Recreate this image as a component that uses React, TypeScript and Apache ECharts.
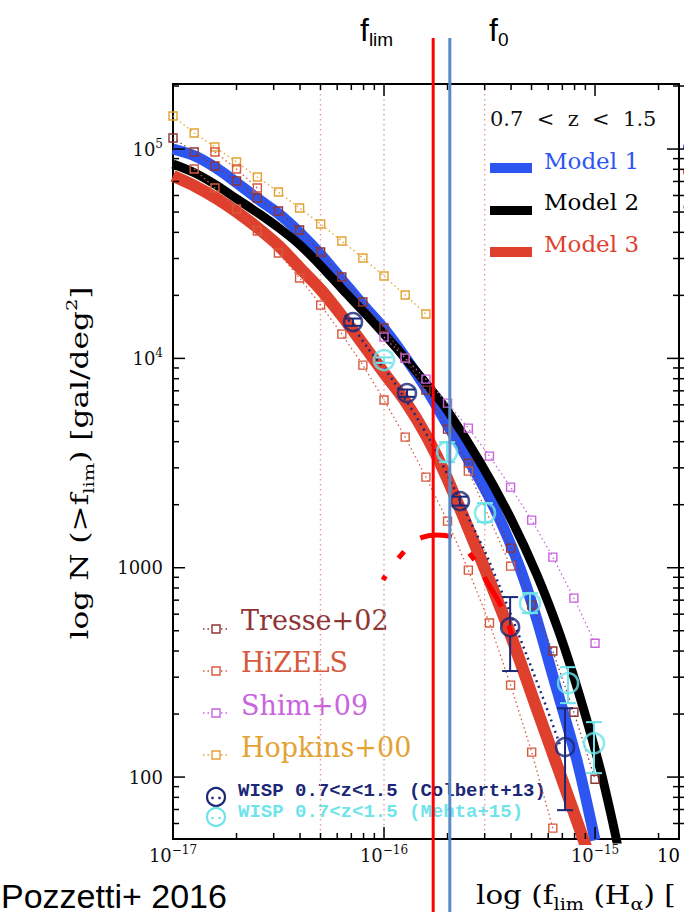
import React, { useEffect, useRef } from "react";
import * as echarts from "echarts";

// Flux limits f_lim are stored in units of 1e-17 erg s^-1 cm^-2; counts N(>f_lim) in gal/deg^2.
const FLUX_EXP0 = -17;

const X_MIN = 1;
const X_MAX = 250;
const Y_MIN = 50.6;
const Y_MAX = 204500;

const X_TICKS_MAJOR = [1, 10, 100];
const X_TICKS_MINOR = [2, 3, 4, 5, 6, 7, 8, 9, 20, 30, 40, 50, 60, 70, 80, 90, 200];
const Y_TICKS_MAJOR = [100, 1000, 10000, 100000];
const Y_TICKS_MINOR = [
  60, 70, 80, 90, 200, 300, 400, 500, 600, 700, 800, 900, 2000, 3000, 4000, 5000, 6000, 7000, 8000, 9000,
  20000, 30000, 40000, 50000, 60000, 70000, 80000, 90000, 200000,
];

const GUIDE_FLUX = [5, 10, 30];
const F_LIM = 17.1;
const F_0 = 20.5;

// Models
const MODEL1_FLUX = [1.0, 1.27, 1.6, 2.01, 2.53, 3.18, 4.0, 5.03, 6.33, 7.95, 10.1, 12.7, 16.0, 19.9, 28.5, 35.5, 44.1, 53.1, 63.2, 82.1, 100];
const MODEL1_N = [100000, 92600, 81200, 68800, 57700, 48900, 39700, 31200, 23700, 18000, 13700, 10000, 7060, 4850, 2620, 1690, 995, 562, 303, 120, 49.9];

const MODEL2_FLUX = [1.0, 1.27, 1.6, 2.01, 2.53, 3.18, 4.0, 5.03, 6.33, 7.95, 10.1, 12.7, 16.5, 19.9, 28.5, 39.6, 53.1, 68.3, 84.9, 105.6, 123, 131.4];
const MODEL2_N = [84800, 76800, 67300, 57700, 49460, 41940, 34770, 27610, 21440, 16830, 12920, 9924, 7215, 5662, 3196, 1745, 922, 476.5, 240.9, 110.3, 57.0, 41.0];

const MODEL3_FLUX = [1.0, 1.27, 1.6, 2.01, 2.53, 3.18, 4.0, 5.03, 6.33, 7.95, 10.1, 12.7, 16.0, 19.9, 28.5, 38.3, 54.9, 78.7, 94.7];
const MODEL3_N = [74300, 66560, 58330, 50010, 41940, 34400, 27010, 21210, 15920, 11700, 8414, 6183, 4207, 2680, 1124, 531.8, 191.4, 69.5, 41.0];

const DOTTED_FLUX = [6.54, 8.31, 11.0, 16.5, 23.7, 31.8, 54.9, 68.3];
const DOTTED_N = [16100, 11320, 7876, 4070, 1948, 1052, 260, 142];

// Literature counts
const HOPKINS_FLUX = [1.0, 1.26, 1.58, 2.0, 2.51, 3.16, 3.98, 5.01, 6.31, 7.94, 10.0, 12.6, 15.8];
const HOPKINS_N = [143800, 119300, 102200, 86700, 73500, 62300, 52260, 43830, 36350, 30150, 24740, 20070, 16280];

const TRESSE_FLUX = [1.0, 1.26, 1.58, 2.0, 2.51, 3.16, 3.98, 5.01, 6.31, 7.94, 10.0, 12.6, 15.8, 20.0, 25.1, 39.8, 50.1, 63.1, 79.4, 100];
const TRESSE_N = [112900, 96760, 82950, 70330, 58330, 50560, 41020, 32200, 24460, 18580, 13960, 10030, 7055, 4594, 3161, 1241, 663, 400, 204, 97.7];

const HIZELS_FLUX = [1.26, 1.58, 2.0, 2.51, 3.16, 3.98, 5.01, 6.31, 7.94, 10.0, 12.6, 15.8, 20.0, 25.1, 31.6, 39.8, 50.1, 63.1];
const HIZELS_N = [80250, 65130, 51680, 40570, 31850, 24200, 17970, 13060, 9290, 6322, 4207, 2710, 1670, 974, 544, 275, 131.5, 57.0];
const HIZELS_B_FLUX = [1.58, 2.0, 2.51];
const HIZELS_B_N = [96760, 80250, 65130];
const HIZELS_C_FLUX = [25.1, 39.8];
const HIZELS_C_N = [2895, 1018];

const SHIM_FLUX = [10.0, 12.6, 15.8, 20.0, 25.1, 31.6, 39.8, 50.1, 63.1, 79.4, 100];
const SHIM_N = [12640, 10030, 7963, 6114, 4645, 3414, 2427, 1688, 1124, 716, 436];

const COLBERT_FLUX = [7.13, 12.85, 22.9, 39.6, 72.1];
const COLBERT_N = [14910, 6827, 2081, 520, 139];
const COLBERT_LO = [14310, 6550, 1980, 321, 69.5];
const COLBERT_HI = [15500, 7100, 2185, 724, 213];

const MEHTA_FLUX = [10.0, 19.9, 30.1, 49.2, 74.5, 98.9];
const MEHTA_N = [9815, 3567, 1824, 677, 281, 145];
const MEHTA_LO = [9520, 3195, 1652, 607, 225.5, 104.4];
const MEHTA_HI = [10110, 3983, 2036, 756, 335, 183];

// Hand-drawn dashed highlight arc
const ARC_FLUX = [9.89, 12.04, 15.3, 17.84, 21.01, 26.41, 30.77, 36.64, 40.43];
const ARC_N = [873, 1149, 1400, 1432, 1400, 1112, 854, 627, 466];

const C_BLUE = "#2d55f2";
const C_BLACK = "#000000";
const C_RED = "#df3f2d";
const C_TRESSE = "#8e3535";
const C_HIZELS = "#d65a3e";
const C_SHIM = "#c864de";
const C_HOPKINS = "#e3a334";
const C_NAVY = "#1b2777";
const C_CYAN = "#6fe4ea";
const C_GUIDE = "#e39c9c";
const C_FLIM = "#ff0000";
const C_F0 = "#5a8ac6";

const SERIF = "DejaVu Serif";
const SANS = "Liberation Sans";

const zip = (xs: number[], ys: number[]) => xs.map((x, i) => [x, ys[i]]);
const isPow10 = (v: number) => {
  const l = Math.log10(v);
  return Math.abs(l - Math.round(l)) < 1e-6;
};
const fmtExp = (e: number) => (e < 0 ? "\u2212" + Math.abs(e) : String(e));

export default function App() {
  const ref = useRef<HTMLDivElement>(null);

  useEffect(() => {
    document.body.style.margin = "0";
    const chart = echarts.init(ref.current!, null, { renderer: "svg" });

    const labelRich = {
      b: { fontFamily: SERIF, fontSize: 18, lineHeight: 22, color: "#111" },
      s: { fontFamily: SERIF, fontSize: 12, lineHeight: 13, verticalAlign: "top", color: "#111" },
    };

    const lineSeries = (name: string, xs: number[], ys: number[], color: string, width: number, z: number) => ({
      type: "line",
      name,
      data: zip(xs, ys),
      symbol: "none",
      smooth: 0.3,
      silent: true,
      lineStyle: { color, width, cap: "butt" },
      z,
    });

    const squareSeries = (name: string, xs: number[], ys: number[], color: string) => ({
      type: "line",
      name,
      data: zip(xs, ys),
      symbol: "rect",
      symbolSize: 8,
      showSymbol: true,
      showAllSymbol: true,
      silent: true,
      itemStyle: { color: "rgba(255,255,255,0)", borderColor: color, borderWidth: 1.4 },
      lineStyle: { color, width: 1.3, type: [1.5, 3] },
      z: 5,
    });

    const errSeries = (xs: number[], lo: number[], hi: number[], color: string) => ({
      type: "custom",
      coordinateSystem: "cartesian2d",
      silent: true,
      z: 7,
      data: xs.map((x, i) => [x, lo[i], hi[i]]),
      encode: { x: 0, y: [1, 2] },
      renderItem: (params: any, api: any) => {
        const a = api.coord([api.value(0), api.value(1)]);
        const b = api.coord([api.value(0), api.value(2)]);
        const w = 8;
        const st = { stroke: color, lineWidth: 2 };
        return {
          type: "group",
          children: [
            { type: "line", shape: { x1: a[0], y1: a[1], x2: b[0], y2: b[1] }, style: st },
            { type: "line", shape: { x1: a[0] - w, y1: a[1], x2: a[0] + w, y2: a[1] }, style: st },
            { type: "line", shape: { x1: b[0] - w, y1: b[1], x2: b[0] + w, y2: b[1] }, style: st },
          ],
        };
      },
    });

    const circleSeries = (xs: number[], ys: number[], color: string, size: number) => ({
      type: "scatter",
      data: zip(xs, ys),
      symbol: "circle",
      symbolSize: size,
      silent: true,
      itemStyle: { color: "rgba(255,255,255,0)", borderColor: color, borderWidth: 2.6 },
      z: 8,
    });

    const xTickData = [
      ...X_TICKS_MAJOR.map((v) => [v, Y_MIN, 1]),
      ...X_TICKS_MINOR.map((v) => [v, Y_MIN, 0]),
    ];
    const yTickData = [
      ...Y_TICKS_MAJOR.map((v) => [X_MIN, v, 1]),
      ...Y_TICKS_MINOR.map((v) => [X_MIN, v, 0]),
    ];
    const tickStyle = { stroke: "#000", lineWidth: 1.5 };

    const series: any[] = [
      {
        type: "custom",
        coordinateSystem: "cartesian2d",
        silent: true,
        z: 1,
        data: GUIDE_FLUX.map((v) => [v, Y_MIN]),
        renderItem: (params: any, api: any) => {
          const cs = params.coordSys;
          const x = api.coord([api.value(0), Y_MIN])[0];
          return {
            type: "line",
            shape: { x1: x, y1: cs.y, x2: x, y2: cs.y + cs.height },
            style: { stroke: C_GUIDE, lineWidth: 1.4, lineDash: [1.5, 3.5] },
          };
        },
      },
      {
        type: "custom",
        coordinateSystem: "cartesian2d",
        silent: true,
        clip: false,
        z: 20,
        data: xTickData,
        renderItem: (params: any, api: any) => {
          const cs = params.coordSys;
          const x = api.coord([api.value(0), Y_MIN])[0];
          const len = api.value(2) ? 12 : 6;
          const b = cs.y + cs.height;
          return {
            type: "group",
            children: [
              { type: "line", shape: { x1: x, y1: b, x2: x, y2: b - len }, style: tickStyle },
              { type: "line", shape: { x1: x, y1: cs.y, x2: x, y2: cs.y + len }, style: tickStyle },
            ],
          };
        },
      },
      {
        type: "custom",
        coordinateSystem: "cartesian2d",
        silent: true,
        clip: false,
        z: 20,
        data: yTickData,
        renderItem: (params: any, api: any) => {
          const cs = params.coordSys;
          const y = api.coord([X_MIN, api.value(1)])[1];
          const len = api.value(2) ? 12 : 6;
          const r = cs.x + cs.width;
          return {
            type: "group",
            children: [
              { type: "line", shape: { x1: cs.x, y1: y, x2: cs.x + len, y2: y }, style: tickStyle },
              { type: "line", shape: { x1: r - len, y1: y, x2: r + len, y2: y }, style: tickStyle },
            ],
          };
        },
      },
      lineSeries("Model 1", MODEL1_FLUX, MODEL1_N, C_BLUE, 11, 2),
      lineSeries("Model 2", MODEL2_FLUX, MODEL2_N, C_BLACK, 9, 3),
      lineSeries("Model 3", MODEL3_FLUX, MODEL3_N, C_RED, 12, 3),
      {
        type: "line",
        name: "model dotted",
        data: zip(DOTTED_FLUX, DOTTED_N),
        symbol: "none",
        smooth: 0.3,
        silent: true,
        lineStyle: { color: C_NAVY, width: 2.5, type: [2, 4] },
        z: 4,
      },
      squareSeries("Hopkins+00", HOPKINS_FLUX, HOPKINS_N, C_HOPKINS),
      squareSeries("Tresse+02", TRESSE_FLUX, TRESSE_N, C_TRESSE),
      squareSeries("HiZELS", HIZELS_FLUX, HIZELS_N, C_HIZELS),
      squareSeries("HiZELS b", HIZELS_B_FLUX, HIZELS_B_N, C_HIZELS),
      squareSeries("HiZELS c", HIZELS_C_FLUX, HIZELS_C_N, C_HIZELS),
      squareSeries("Shim+09", SHIM_FLUX, SHIM_N, C_SHIM),
      errSeries(COLBERT_FLUX, COLBERT_LO, COLBERT_HI, C_NAVY),
      errSeries(MEHTA_FLUX, MEHTA_LO, MEHTA_HI, C_CYAN),
      circleSeries(COLBERT_FLUX, COLBERT_N, C_NAVY, 18),
      circleSeries(MEHTA_FLUX, MEHTA_N, C_CYAN, 20),
      {
        type: "line",
        name: "highlight",
        data: zip(ARC_FLUX, ARC_N),
        symbol: "none",
        smooth: 0.5,
        silent: true,
        lineStyle: { color: C_FLIM, width: 5, cap: "butt", type: [5, 22, 8, 22, 32, 25, 8, 20, 34, 20, 10, 30] },
        z: 9,
      },
      {
        type: "custom",
        coordinateSystem: "cartesian2d",
        silent: true,
        clip: false,
        z: 30,
        data: [
          [F_LIM, Y_MIN, 0],
          [F_0, Y_MIN, 1],
        ],
        renderItem: (params: any, api: any) => {
          const x = api.coord([api.value(0), Y_MIN])[0];
          return {
            type: "line",
            shape: { x1: x, y1: 38, x2: x, y2: 912 },
            style: { stroke: api.value(2) ? C_F0 : C_FLIM, lineWidth: 3 },
          };
        },
      },
    ];

    const legendText = (text: string, x: number, y: number, color: string, size: number, family = SERIF, weight = "normal") => ({
      type: "text",
      x,
      y,
      silent: true,
      style: { text, fill: color, fontSize: size, fontFamily: family, fontWeight: weight, align: "left", verticalAlign: "middle" },
    });

    const squareLegend = (y: number, ty: number, name: string, color: string) => [
      { type: "line", silent: true, shape: { x1: 203, y1: y, x2: 230, y2: y }, style: { stroke: color, lineWidth: 1.4, lineDash: [1.5, 3] } },
      { type: "rect", silent: true, shape: { x: 212, y: y - 4, width: 8, height: 8 }, style: { fill: "#fff", stroke: color, lineWidth: 1.4 } },
      legendText(name, 241, ty, color, 27),
    ];

    const modelLegend = (y: number, h: number, ty: number, name: string, color: string) => [
      { type: "rect", silent: true, shape: { x: 490, y, width: 42, height: h }, style: { fill: color } },
      legendText(name, 544, ty, color, 23),
    ];

    const titleRich = {
      a: { fontFamily: SERIF, fontSize: 24, lineHeight: 32, color: "#111", verticalAlign: "middle" },
      s: { fontFamily: SERIF, fontSize: 15, lineHeight: 15, color: "#111", verticalAlign: "bottom" },
      p: { fontFamily: SERIF, fontSize: 15, lineHeight: 15, color: "#111", verticalAlign: "top" },
    };
    const xTitleRich = {
      a: { fontFamily: SERIF, fontSize: 26, lineHeight: 34, color: "#111", verticalAlign: "middle" },
      s: { fontFamily: SERIF, fontSize: 17, lineHeight: 17, color: "#111", verticalAlign: "bottom" },
    };
    const fRich = {
      f: { fontFamily: SANS, fontSize: 32, lineHeight: 38, color: "#111", verticalAlign: "middle" },
      s: { fontFamily: SANS, fontSize: 19, lineHeight: 19, color: "#111", verticalAlign: "bottom" },
    };

    const graphic: any[] = [
      legendText("0.7  <  z  <  1.5", 490, 119, "#111", 21),
      ...modelLegend(163, 10, 161, "Model 1", C_BLUE),
      ...modelLegend(206, 9, 202, "Model 2", C_BLACK),
      ...modelLegend(247, 10, 244, "Model 3", C_RED),
      ...squareLegend(629, 620, "Tresse+02", C_TRESSE),
      ...squareLegend(671, 662, "HiZELS", C_HIZELS),
      ...squareLegend(713, 705, "Shim+09", C_SHIM),
      ...squareLegend(755, 747, "Hopkins+00", C_HOPKINS),
      { type: "circle", silent: true, shape: { cx: 216, cy: 797, r: 9 }, style: { fill: "none", stroke: C_NAVY, lineWidth: 2.2 } },
      { type: "circle", silent: true, shape: { cx: 212.5, cy: 798, r: 1.3 }, style: { fill: C_NAVY } },
      { type: "circle", silent: true, shape: { cx: 219.5, cy: 798, r: 1.3 }, style: { fill: C_NAVY } },
      { type: "circle", silent: true, shape: { cx: 216, cy: 817, r: 9 }, style: { fill: "none", stroke: C_CYAN, lineWidth: 2.2 } },
      { type: "circle", silent: true, shape: { cx: 212.5, cy: 818, r: 1.3 }, style: { fill: C_CYAN } },
      { type: "circle", silent: true, shape: { cx: 219.5, cy: 818, r: 1.3 }, style: { fill: C_CYAN } },
      legendText("WISP 0.7<z<1.5 (Colbert+13)", 238, 791, C_NAVY, 19, "Liberation Mono", "bold"),
      legendText("WISP 0.7<z<1.5 (Mehta+15)", 238, 812, C_CYAN, 19, "Liberation Mono", "bold"),
      {
        type: "text",
        x: 360,
        y: 30,
        silent: true,
        style: { text: "{f|f}{s|lim}", rich: fRich, align: "left", verticalAlign: "middle" },
      },
      {
        type: "text",
        x: 489,
        y: 30,
        silent: true,
        style: { text: "{f|f}{s|0}", rich: fRich, align: "left", verticalAlign: "middle" },
      },
      {
        type: "text",
        x: 80,
        y: 463,
        rotation: Math.PI / 2,
        scaleX: 1.3,
        silent: true,
        style: {
          text: "{a|log N (>f}{s|lim}{a|) [gal/deg}{p|2}{a|]}",
          rich: titleRich,
          align: "center",
          verticalAlign: "middle",
        },
      },
      {
        type: "text",
        x: 476,
        y: 895,
        scaleX: 1.13,
        silent: true,
        style: {
          text: "{a|log (f}{s|lim}{a| (H}{s|\u03b1}{a|) [}",
          rich: xTitleRich,
          align: "left",
          verticalAlign: "middle",
        },
      },
      {
        type: "text",
        x: 1,
        y: 896,
        silent: true,
        style: { text: "Pozzetti+ 2016", fill: "#000", fontSize: 34, lineHeight: 34, fontFamily: SANS, align: "left", verticalAlign: "middle" },
      },
      {
        type: "text",
        x: 657,
        y: 844,
        silent: true,
        style: { text: "{b|10}", rich: labelRich, align: "left", verticalAlign: "top" },
      },
      { type: "circle", silent: true, shape: { cx: 689, cy: 147, r: 6 }, style: { fill: C_BLUE } },
      { type: "circle", silent: true, shape: { cx: 689, cy: 159, r: 5 }, style: { fill: C_BLACK } },
      { type: "circle", silent: true, shape: { cx: 689, cy: 172, r: 6 }, style: { fill: C_RED } },
      { type: "circle", silent: true, shape: { cx: 686, cy: 207, r: 3 }, style: { fill: "#7cc46a" } },
    ];

    chart.setOption({
      animation: false,
      backgroundColor: "#fff",
      grid: { left: 173, top: 84, right: 5, bottom: 76, show: true, borderColor: "#000", borderWidth: 2, backgroundColor: "rgba(0,0,0,0)" },
      xAxis: {
        type: "log",
        logBase: 10,
        min: X_MIN,
        max: X_MAX,
        axisLine: { show: false },
        axisTick: { show: false },
        splitLine: { show: false },
        axisLabel: {
          margin: 5,
          showMinLabel: true,
          formatter: (v: number) => (isPow10(v) ? `{b|10}{s|${fmtExp(Math.round(Math.log10(v)) + FLUX_EXP0)}}` : ""),
          rich: labelRich,
        },
      },
      yAxis: {
        type: "log",
        logBase: 10,
        min: Y_MIN,
        max: Y_MAX,
        axisLine: { show: false },
        axisTick: { show: false },
        splitLine: { show: false },
        axisLabel: {
          margin: 10,
          formatter: (v: number) => {
            if (!isPow10(v)) return "";
            const e = Math.round(Math.log10(v));
            return e >= 4 ? `{b|10}{s|${e}}` : `{b|${Math.round(v)}}`;
          },
          rich: labelRich,
        },
      },
      series,
      graphic,
    });

    return () => chart.dispose();
  }, []);

  return <div ref={ref} style={{ width: 684, height: 915 }} />;
}
